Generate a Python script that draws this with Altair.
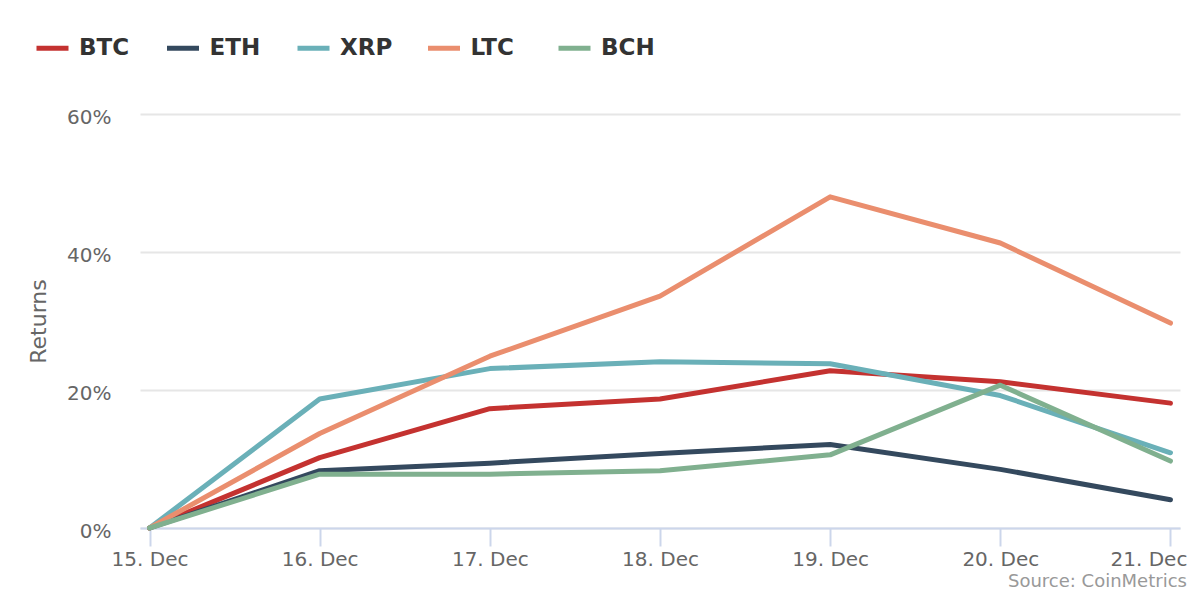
import altair as alt
import pandas as pd

dates = ["15. Dec", "16. Dec", "17. Dec", "18. Dec", "19. Dec", "20. Dec", "21. Dec"]
series = ["BTC", "ETH", "XRP", "LTC", "BCH"]
colors = ["#c43230", "#34495e", "#6ab0b8", "#ea8e6e", "#80b08f"]

btc = [0, 10.2, 17.3, 18.7, 22.8, 21.2, 18.1]
eth = [0, 8.3, 9.4, 10.8, 12.1, 8.5, 4.1]
xrp = [0, 18.7, 23.1, 24.1, 23.8, 19.2, 10.9]
ltc = [0, 13.7, 24.9, 33.6, 48.0, 41.3, 29.7]
bch = [0, 7.8, 7.8, 8.3, 10.6, 20.7, 9.7]

values = {"BTC": btc, "ETH": eth, "XRP": xrp, "LTC": ltc, "BCH": bch}
rows = []
for s in series:
    for d, v in zip(dates, values[s]):
        rows.append({"date": d, "series": s, "ret": v})
df = pd.DataFrame(rows)

FONT = "DejaVu Sans"

x_enc = alt.X(
    "date:O",
    sort=dates,
    scale=alt.Scale(type="point", padding=0.056),
    axis=alt.Axis(
        title=None, labelAngle=0, domainColor="#ccd6eb", domainWidth=2,
        tickColor="#ccd6eb", tickWidth=2, tickSize=18, labelPadding=3,
        labelFontSize=20, labelColor="#666666", labelFont=FONT, grid=False,
        labelOffset={"condition": {"test": "datum.index == 1", "value": -22}, "value": 0},
    ),
)
y_enc = alt.Y(
    "ret:Q",
    scale=alt.Scale(domain=[0, 60], nice=False),
    axis=alt.Axis(
        values=[0, 20, 40, 60], labelExpr="datum.value + '%'",
        grid=True, gridColor="#e6e6e6", gridWidth=2, domain=False, ticks=False,
        labelPadding=29, labelFontSize=20, labelColor="#666666", labelFont=FONT,
        labelOffset=3,
        title="Returns", titleFontSize=22, titleColor="#666666", titleFont=FONT,
        titleFontWeight="normal", titleX=-101.5, titleY=207, titleAngle=270,
        titleAlign="center", titleBaseline="middle",
    ),
)
color_enc = alt.Color(
    "series:N",
    scale=alt.Scale(domain=series, range=colors),
    legend=alt.Legend(
        orient="none", legendX=-106, legendY=-84.5, direction="horizontal",
        title=None, symbolType="stroke", symbolSize=1024, symbolStrokeWidth=5,
        labelFont=FONT, labelFontSize=23, labelFontWeight="bold",
        labelColor="#333333", labelOffset=8, columnPadding=23.5, gridAlign="all",
    ),
)

layers = []
for s in series:
    layers.append(
        alt.Chart(df)
        .transform_filter(alt.datum.series == s)
        .mark_line(strokeWidth=5, strokeCap="round", strokeJoin="round")
        .encode(x=x_enc, y=y_enc, color=color_enc)
    )

chart = (
    alt.layer(*layers)
    .properties(
        width=1040,
        height=414,
        autosize=alt.AutoSizeParams(type="none"),
        padding={"left": 132, "top": 106, "right": 11, "bottom": 64},
        background="white",
        title=alt.TitleParams(
            "Source: CoinMetrics", orient="bottom", anchor="end", fontSize=18,
            font=FONT, color="#999999", fontWeight="normal", offset=4, dx=0,
        ),
    )
    .configure_view(stroke=None)
)

chart.save("out.html", embed_options={"renderer": "svg", "actions": False})
